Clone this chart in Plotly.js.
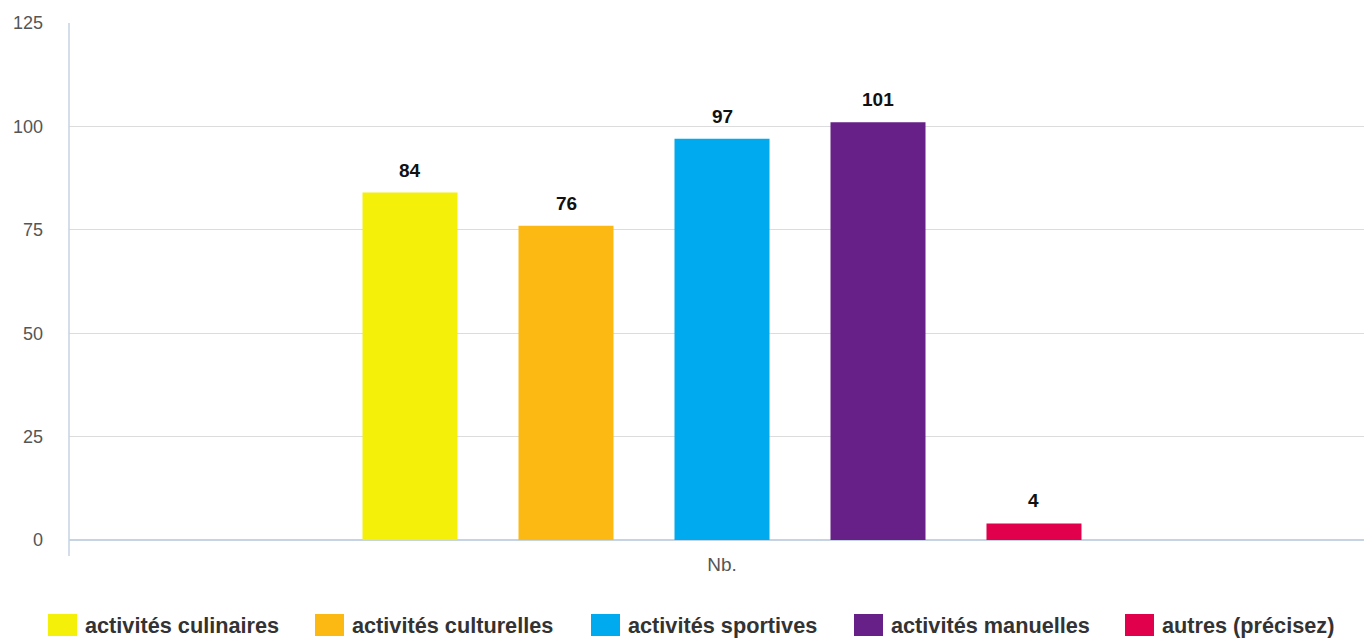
<!DOCTYPE html>
<html>
<head>
<meta charset="utf-8">
<script src="https://cdn.plot.ly/plotly-3.0.1.min.js"></script>
<style>html,body{margin:0;padding:0;overflow:hidden;background:#fff}#chart{width:1364px;height:638px}</style>
</head>
<body>
<div id="chart"></div>
<script>
// ---- data ----
const categories = ['Nb.'];
const seriesNames = ['activités culinaires', 'activités culturelles', 'activités sportives', 'activités manuelles', 'autres (précisez)'];
const seriesValues = [84, 76, 97, 101, 4];
const seriesColors = ['#F4F00A', '#FDB913', '#00AAEE', '#662087', '#E0004B'];
const yTickValues = [0, 25, 50, 75, 100, 125];

// ---- layout constants ----
const W = 1364, H = 638;
const M = {l: 69, r: 0, t: 23, b: 98};
const plotW = W - M.l - M.r, plotH = H - M.t - M.b;
const bargap = 0.3977, bargroupgap = 0.391;
const slot = plotW * (1 - bargap) / seriesNames.length;
const legendSquareLeft = [48, 315, 591, 854, 1125];
const px2x = p => (p - M.l) / plotW;
const px2y = p => (H - M.b - p) / plotH;
const font = 'Liberation Sans, Arial, Helvetica, sans-serif';

const traces = seriesNames.map((name, i) => ({
  type: 'bar',
  name: name,
  x: categories,
  y: [seriesValues[i]],
  marker: {color: seriesColors[i]},
  hoverinfo: 'x+y+name'
}));

const annotations = [];
const shapes = [];
seriesNames.forEach((name, i) => {
  annotations.push({
    x: categories[0], y: seriesValues[i], xref: 'x', yref: 'y',
    xshift: (i - (seriesNames.length - 1) / 2) * slot,
    yshift: 10, yanchor: 'bottom', showarrow: false,
    text: '<b>' + seriesValues[i] + '</b>',
    font: {family: font, size: 19, color: '#111'}
  });
  const sx = legendSquareLeft[i];
  shapes.push({
    type: 'rect', xref: 'paper', yref: 'paper',
    x0: px2x(sx), x1: px2x(sx + 29), y0: px2y(636), y1: px2y(614),
    fillcolor: seriesColors[i], line: {width: 0}
  });
  annotations.push({
    xref: 'paper', yref: 'paper', x: px2x(sx + 35), y: px2y(625),
    xanchor: 'left', yanchor: 'middle', showarrow: false,
    text: '<b>' + name + '</b>',
    font: {family: font, size: 21.7, color: '#333'}
  });
});

// y axis line extending below zero
shapes.push({
  type: 'line', xref: 'paper', yref: 'paper',
  x0: 0, x1: 0, y0: px2y(556), y1: 1,
  line: {color: '#C5D3E3', width: 1.5}
});

const layout = {
  width: W, height: H,
  margin: M,
  paper_bgcolor: '#fff', plot_bgcolor: '#fff',
  barmode: 'group', bargap: bargap, bargroupgap: bargroupgap,
  showlegend: false,
  font: {family: font, color: '#555'},
  xaxis: {
    type: 'category',
    range: [-0.5 - 5.5 / plotW, 0.5 - 5.5 / plotW],
    showgrid: false, showline: false, zeroline: false,
    ticks: '', ticklabelstandoff: 11,
    tickfont: {family: font, size: 19, color: '#555'},
    fixedrange: true
  },
  yaxis: {
    range: [0, 125],
    tickvals: yTickValues,
    ticktext: yTickValues.map(String),
    showgrid: true, gridcolor: '#DCDCDC', gridwidth: 1,
    zeroline: true, zerolinecolor: '#C5D3E3', zerolinewidth: 2,
    showline: false, ticks: '', ticklabelstandoff: 25,
    tickfont: {family: font, size: 18, color: '#555'},
    fixedrange: true
  },
  shapes: shapes,
  annotations: annotations
};

Plotly.newPlot('chart', traces, layout, {displayModeBar: false, staticPlot: false});
</script>
</body>
</html>
